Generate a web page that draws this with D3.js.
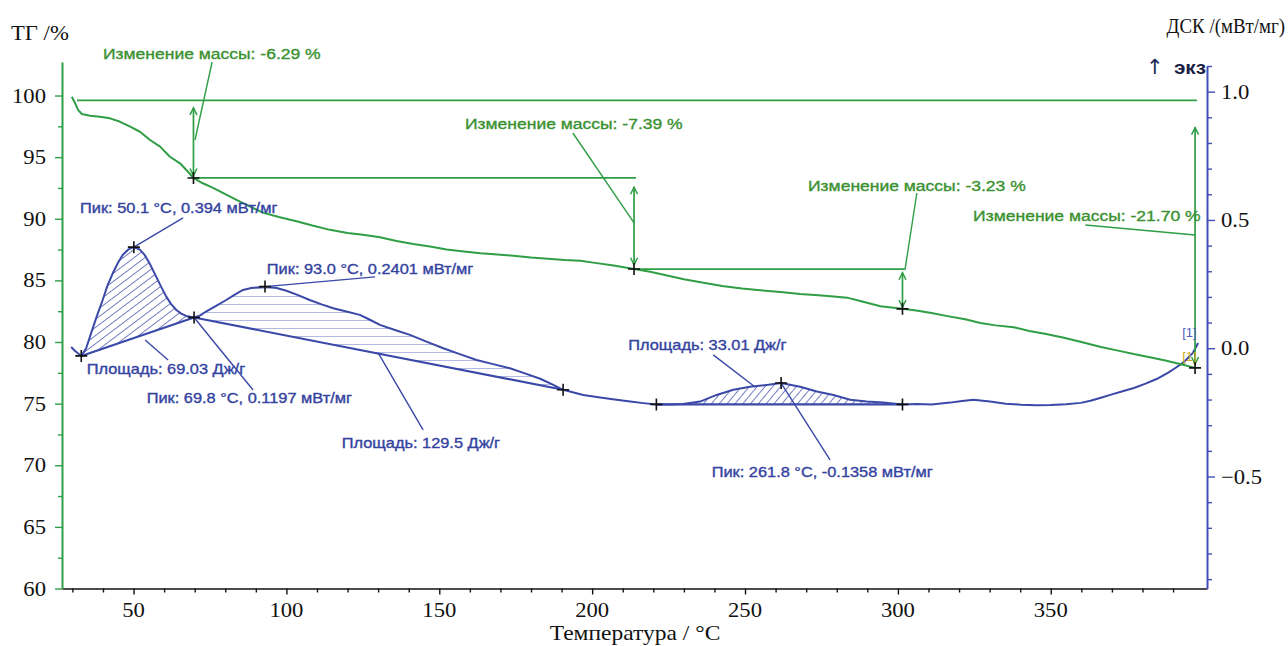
<!DOCTYPE html>
<html>
<head>
<meta charset="utf-8">
<script src="https://cdn.jsdelivr.net/npm/d3@7"></script>
<style>
  html, body { margin: 0; padding: 0; background: #fff; }
  svg { display: block; }
</style>
</head>
<body>
<svg id="chart" width="1288" height="646"></svg>
<script>
// ---------- data ----------
// TG curve: temperature (°C) and residual mass (%)
const tgTemp = [29.8, 30.9, 31.9, 33.1, 35.8, 39.0, 42.3, 45.6, 48.9, 52.1, 55.4, 58.7, 61.9, 65.2, 67.5, 69.6,
  72.5, 76.0, 80.0, 84.0, 88.0, 92.3, 97.5, 103.3, 108.5, 114.2, 120.0, 125.0, 130.6, 136.0, 141.5, 147.0,
  152.4, 158.0, 163.5, 169.0, 174.2, 180.0, 185.5, 191.0, 196.1, 201.5, 207.0, 213.7,
  219.0, 224.5, 230.0, 236.4, 242.5, 249.0, 255.0, 261.6, 268.0, 274.0, 279.0, 283.4, 288.0, 294.3, 301.5,
  306.0, 311.0, 316.2, 322.0, 327.0, 332.0, 337.9, 343.0, 348.5, 354.3, 360.0, 366.4, 372.0, 377.5, 382.8,
  387.5, 392.6, 397.2];
const tgMass = [99.9, 99.37, 98.82, 98.5, 98.36, 98.28, 98.15, 97.87, 97.47, 97.06, 96.39, 95.85, 95.03, 94.5, 93.9, 93.31,
  92.9, 92.5, 92.0, 91.5, 91.0, 90.5, 90.15, 89.8, 89.45, 89.1, 88.85, 88.7, 88.5, 88.2, 87.95, 87.75,
  87.5, 87.35, 87.2, 87.1, 87.0, 86.85, 86.75, 86.65, 86.6, 86.4, 86.2, 85.92,
  85.7, 85.4, 85.1, 84.8, 84.55, 84.35, 84.2, 84.05, 83.9, 83.8, 83.7, 83.6, 83.3, 82.9, 82.69,
  82.55, 82.35, 82.1, 81.85, 81.55, 81.35, 81.2, 80.9, 80.65, 80.35, 80.0, 79.6, 79.3, 79.0, 78.75,
  78.5, 78.2, 77.9];

// DSC curve: temperature (°C) and heat flow (mW/mg)
const dscTemp = [29.6, 30.8, 32.9, 34.5, 36.1, 38.0, 39.9, 41.5, 43.2, 45.0, 46.5, 48.3, 50.1, 52.0, 53.6,
  55.5, 57.4, 59.0, 60.7, 62.3, 64.0, 65.6, 67.2, 69.8, 71.8, 73.7, 77.0, 80.3, 83.0, 85.8, 88.5, 91.2, 93.0,
  96.5, 100.0, 103.8, 107.6, 111.5, 115.3, 119.6, 124.0, 127.3, 130.6, 135.5, 140.4, 145.8, 151.3, 156.7,
  162.2, 167.6, 173.1, 178.0, 183.0, 186.8, 190.5, 197.1, 202.6, 208.0, 212.4, 216.7, 221.0, 225.0, 229.7,
  235.3, 240.7, 246.2, 251.6, 257.1, 261.8, 268.0, 273.5, 278.9, 284.4, 289.8, 295.2, 301.5, 306.2, 311.0,
  317.1, 321.0, 324.7, 330.1, 335.3, 340.2, 345.1, 350.0, 355.0, 359.8, 363.0, 366.4, 370.0, 373.5, 377.2,
  381.0, 384.6, 388.3, 391.0, 393.6, 396.5, 398.2];
const dscHeat = [0.005, -0.01, -0.03, 0.0, 0.058, 0.125, 0.188, 0.245, 0.292, 0.335, 0.364, 0.385, 0.394, 0.385, 0.364,
  0.325, 0.279, 0.240, 0.201, 0.172, 0.149, 0.135, 0.126, 0.1197, 0.128, 0.143, 0.165, 0.188, 0.208, 0.227, 0.235, 0.238, 0.2401,
  0.236, 0.224, 0.207, 0.188, 0.171, 0.156, 0.143, 0.130, 0.111, 0.091, 0.071, 0.052, 0.026, 0.0, -0.023,
  -0.046, -0.062, -0.078, -0.098, -0.119, -0.140, -0.162, -0.182, -0.192, -0.201, -0.208, -0.214, -0.219, -0.219, -0.217,
  -0.208, -0.182, -0.162, -0.150, -0.143, -0.1358, -0.150, -0.169, -0.182, -0.201, -0.208, -0.212, -0.219, -0.217, -0.219,
  -0.212, -0.206, -0.201, -0.208, -0.216, -0.220, -0.222, -0.221, -0.218, -0.213, -0.205, -0.193, -0.180, -0.168, -0.155,
  -0.138, -0.120, -0.096, -0.075, -0.053, -0.018, 0.020];

// DSC peaks and integration results
const peakTemp = [50.1, 69.8, 93.0, 261.8];
const peakHeat = [0.394, 0.1197, 0.2401, -0.1358];
const areaStart = [32.9, 69.8, 221.0];   // integration limits, °C
const areaEnd = [69.8, 190.5, 301.5];
const areaValue = [69.03, 129.5, 33.01]; // J/g

// TG mass-loss steps
const refMass = 99.6;
const stepTemp = [69.6, 213.7, 301.5];
const stepChange = [-6.29, -7.39, -3.23];
const totalTemp = 397.2;
const totalChange = -21.70;

// axis ticks
const tempTicks = [50, 100, 150, 200, 250, 300, 350];
const tempMinor = [30, 40, 60, 70, 80, 90, 110, 120, 130, 140, 160, 170, 180, 190, 210, 220, 230, 240, 260, 270, 280, 290, 310, 320, 330, 340, 360, 370, 380, 390];
const massTicks = [60, 65, 70, 75, 80, 85, 90, 95, 100];
const massMinor = [62.5, 67.5, 72.5, 77.5, 82.5, 87.5, 92.5, 97.5];
const dscTicks = [-0.5, 0.0, 0.5, 1.0];
const dscMinor = [-0.9, -0.8, -0.7, -0.6, -0.4, -0.3, -0.2, -0.1, 0.1, 0.2, 0.3, 0.4, 0.6, 0.7, 0.8, 0.9, 1.1];

// ---------- layout ----------
const GREEN = '#2f9e45', GREEN_TXT = '#3a9130', BLUE = '#3a48a8', BLUE_TXT = '#34439f';
const svg = d3.select('#chart');

const x = d3.scaleLinear().domain([26.6, 401.1]).range([62, 1207]);
const yTG = d3.scaleLinear().domain([60, 102.72]).range([588.5, 62]);
const yDSC = d3.scaleLinear().domain([-0.9365, 1.1]).range([588.5, 66]);

function txt(g, px, py, str, o) {
  const t = g.append('text')
    .attr('transform', `translate(${px},${py}) scale(${o.sx || 1},1)`)
    .attr('text-anchor', o.anchor || 'start')
    .attr('font-family', o.family || 'Liberation Sans, Arial, sans-serif')
    .attr('font-size', o.size || 14)
    .attr('font-weight', o.weight || 'normal')
    .attr('fill', o.color || '#000')
    .text(str);
  if (o.heavy) t.attr('stroke', o.color).attr('stroke-width', o.heavy);
  return t;
}
const SERIF = 'Liberation Serif, Times New Roman, serif';

// ---------- hatch patterns ----------
const defs = svg.append('defs');
function hatch(id, angle, gap, color, width) {
  const p = defs.append('pattern').attr('id', id).attr('patternUnits', 'userSpaceOnUse')
    .attr('width', gap).attr('height', gap).attr('patternTransform', `rotate(${angle})`);
  p.append('line').attr('x1', 0).attr('y1', 0).attr('x2', 0).attr('y2', gap)
    .attr('stroke', color).attr('stroke-width', width);
}
hatch('hatchA', 53, 6.5, BLUE, 1.4);
hatch('hatchB', 90, 8, '#7f89cc', 1.2);
hatch('hatchC', 40, 6, BLUE, 1.4);

// ---------- axes ----------
const gAx = svg.append('g');
// bottom (temperature)
gAx.append('g').attr('transform', 'translate(0,588.5)')
  .call(d3.axisBottom(x).tickValues(tempMinor).tickSize(4).tickSizeOuter(0).tickFormat(''))
  .call(g => g.select('.domain').attr('stroke', '#111').attr('stroke-width', 1.6))
  .call(g => g.selectAll('.tick line').attr('stroke', '#111').attr('stroke-width', 1.4));
gAx.append('g').attr('transform', 'translate(0,588.5)')
  .call(d3.axisBottom(x).tickValues(tempTicks).tickSize(6).tickSizeOuter(0).tickFormat(''))
  .call(g => g.select('.domain').remove())
  .call(g => g.selectAll('.tick line').attr('stroke', '#111').attr('stroke-width', 1.4));
tempTicks.forEach(t => txt(gAx, x(t), 617, String(t), {family: SERIF, size: 21, anchor: 'middle', sx: 1.08, color: '#111'}));
txt(gAx, 635, 640, 'Температура / °C', {family: SERIF, size: 21, anchor: 'middle', sx: 1.12, color: '#111'});

// left (TG)
gAx.append('g').attr('transform', 'translate(62,0)')
  .call(d3.axisLeft(yTG).tickValues(massMinor).tickSize(4).tickSizeOuter(0).tickFormat(''))
  .call(g => g.select('.domain').attr('stroke', GREEN).attr('stroke-width', 2))
  .call(g => g.selectAll('.tick line').attr('stroke', GREEN).attr('stroke-width', 1.4));
gAx.append('g').attr('transform', 'translate(62,0)')
  .call(d3.axisLeft(yTG).tickValues(massTicks).tickSize(7).tickSizeOuter(0).tickFormat(''))
  .call(g => g.select('.domain').remove())
  .call(g => g.selectAll('.tick line').attr('stroke', GREEN).attr('stroke-width', 1.4));
massTicks.forEach(v => txt(gAx, 46, yTG(v) + 7, String(v), {family: SERIF, size: 21, anchor: 'end', sx: 1.08, color: '#111'}));
txt(gAx, 11, 40, 'ТГ /%', {family: SERIF, size: 21, sx: 1.08, color: '#111'});

// right (DSC)
gAx.append('g').attr('transform', 'translate(1207,0)')
  .call(d3.axisRight(yDSC).tickValues(dscMinor).tickSize(5).tickSizeOuter(0).tickFormat(''))
  .call(g => g.select('.domain').attr('stroke', '#4050b8').attr('stroke-width', 2))
  .call(g => g.selectAll('.tick line').attr('stroke', '#4050b8').attr('stroke-width', 1.4));
gAx.append('g').attr('transform', 'translate(1207,0)')
  .call(d3.axisRight(yDSC).tickValues(dscTicks).tickSize(8).tickSizeOuter(0).tickFormat(''))
  .call(g => g.select('.domain').remove())
  .call(g => g.selectAll('.tick line').attr('stroke', '#4050b8').attr('stroke-width', 1.4));
dscTicks.forEach(v => txt(gAx, 1221, yDSC(v) + 7, d3.format('.1f')(v), {family: SERIF, size: 21, sx: 1.08, color: '#111'}));
txt(gAx, 1285, 33, 'ДСК /(мВт/мг)', {family: SERIF, size: 21, anchor: 'end', sx: 0.9, color: '#111'});
txt(gAx, 1146, 74, '↑', {family: 'DejaVu Sans, sans-serif', size: 21, color: '#1d2a55'});
txt(gAx, 1206, 74, 'экз', {size: 18, weight: 'bold', anchor: 'end', sx: 1.15, color: '#1a1f45'});

// ---------- DSC: integrated areas ----------
const dscPts = dscTemp.map((t, i) => [t, dscHeat[i]]);
const heatAt = t => dscPts.find(p => Math.abs(p[0] - t) < 1e-6)[1];
const gArea = svg.append('g');
['hatchA', 'hatchB', 'hatchC'].forEach((pat, i) => {
  const a = areaStart[i], b = areaEnd[i];
  const seg = dscPts.filter(p => p[0] >= a && p[0] <= b);
  const poly = seg.map(p => [x(p[0]), yDSC(p[1])]);
  poly.push([x(a), yDSC(heatAt(a))]);
  gArea.append('path').attr('d', 'M' + poly.map(p => p.join(',')).join('L') + 'Z')
    .attr('fill', `url(#${pat})`).attr('stroke', 'none');
  // baseline
  gArea.append('line').attr('x1', x(a)).attr('y1', yDSC(heatAt(a))).attr('x2', x(b)).attr('y2', yDSC(heatAt(b)))
    .attr('stroke', BLUE).attr('stroke-width', 2.2);
});

// ---------- curves ----------
svg.append('path').datum(dscPts)
  .attr('d', d3.line().x(d => x(d[0])).y(d => yDSC(d[1])))
  .attr('fill', 'none').attr('stroke', BLUE).attr('stroke-width', 2).attr('stroke-linejoin', 'round');
const tgPts = tgTemp.map((t, i) => [t, tgMass[i]]);
svg.append('path').datum(tgPts)
  .attr('d', d3.line().x(d => x(d[0])).y(d => yTG(d[1])))
  .attr('fill', 'none').attr('stroke', GREEN).attr('stroke-width', 2).attr('stroke-linejoin', 'round');

// ---------- TG step construction ----------
const gStep = svg.append('g').attr('stroke', GREEN).attr('fill', 'none');
const stepMass = [];
stepChange.reduce((m, d) => { const v = +(m + d).toFixed(2); stepMass.push(v); return v; }, refMass);
const finalMass = +(refMass + totalChange).toFixed(2);
const levels = [refMass, ...stepMass];

gStep.append('line').attr('x1', x(31.5)).attr('x2', x(397.8)).attr('y1', yTG(refMass)).attr('y2', yTG(refMass)).attr('stroke-width', 1.7);
stepMass.slice(0, 2).forEach((m, i) => {
  gStep.append('line').attr('x1', x(stepTemp[i])).attr('x2', x(stepTemp[i + 1]) + 2)
    .attr('y1', yTG(m)).attr('y2', yTG(m)).attr('stroke-width', 1.7);
});

function dblArrow(px, y1, y2) {
  gStep.append('line').attr('x1', px).attr('x2', px).attr('y1', y1).attr('y2', y2).attr('stroke-width', 1.7);
  const h = 7, w = 3.5;
  gStep.append('path').attr('d', `M${px - w},${y1 + h}L${px},${y1}L${px + w},${y1 + h}`).attr('stroke-width', 1.5);
  gStep.append('path').attr('d', `M${px - w},${y2 - h}L${px},${y2}L${px + w},${y2 - h}`).attr('stroke-width', 1.5);
}
// arrows stand a little off the levels they join
const arrowGap = [[0.6, 0.2], [0.75, 0.35], [0.3, 0.15]];
stepTemp.forEach((t, i) => dblArrow(x(t), yTG(levels[i] - arrowGap[i][0]), yTG(stepMass[i] + arrowGap[i][1])));
dblArrow(x(totalTemp), yTG(97.4), yTG(finalMass + 0.3));

// ---------- annotations ----------
const gNote = svg.append('g');
function note(str, at, from, to, yScale, color, lineColor, size, sx) {
  gNote.append('line').attr('x1', x(from[0])).attr('y1', yScale(from[1])).attr('x2', x(to[0])).attr('y2', yScale(to[1]))
    .attr('stroke', lineColor).attr('stroke-width', 1.4);
  txt(gNote, x(at[0]), yScale(at[1]), str, {size: size, color: color, sx: sx, heavy: 0.35});
}
const massLabel = v => `Изменение массы: ${v.toFixed(2)} %`;
const G = [yTG, GREEN_TXT, GREEN, 14.6, 1.2];
note(massLabel(stepChange[0]), [40.0, 102.96], [75.7, 102.72], [70.1, 96.39], ...G);
note(massLabel(stepChange[1]), [158.4, 97.28], [193.7, 96.96], [213.7, 89.66], ...G);
note(massLabel(stepChange[2]), [270.6, 92.25], [306.2, 92.09], [302.3, 85.84], ...G);
note(massLabel(totalChange), [324.6, 89.82], [361.3, 89.49], [397.2, 88.68], ...G);

const peakLabel = i => `Пик: ${peakTemp[i].toFixed(1)} °C, ${peakHeat[i]} мВт/мг`;
const areaLabel = i => `Площадь: ${areaValue[i]} Дж/г`;
const B = [yDSC, BLUE_TXT, BLUE, 14, 1.17];
note(peakLabel(0), [32.5, 0.527], [peakTemp[0], peakHeat[0]], [66.2, 0.508], ...B);
note(peakLabel(2), [93.6, 0.290], [peakTemp[2], peakHeat[2]], [129.0, 0.278], ...B);
note(areaLabel(0), [34.7, -0.100], [53.8, 0.032], [61.3, -0.046], ...B);
note(peakLabel(1), [54.3, -0.213], [peakTemp[1], peakHeat[1]], [89.1, -0.163], ...B);
note(areaLabel(1), [118.1, -0.389], [130.0, -0.018], [144.7, -0.318], ...B);
note(areaLabel(2), [211.8, -0.007], [239.6, -0.026], [253.3, -0.151], ...B);
note(peakLabel(3), [239.1, -0.502], [peakTemp[3], peakHeat[3]], [277.8, -0.435], ...B);

// curve tags at the end of the run
txt(gNote, x(393.0), yDSC(0.044), '[1]', {size: 13, color: '#4f5fc0'});
txt(gNote, x(393.0), yDSC(-0.049), '[1]', {size: 13, color: '#c9a820'});

// ---------- cross markers ----------
const cross = [];
[areaStart[0], peakTemp[0], peakTemp[1], peakTemp[2], areaEnd[1], areaStart[2], peakTemp[3], areaEnd[2]]
  .forEach(t => cross.push([x(t), yDSC(heatAt(t))]));
stepTemp.forEach((t, i) => cross.push([x(t), yTG(stepMass[i])]));
cross.push([x(totalTemp), yTG(finalMass)]);
svg.append('g').selectAll('path').data(cross).join('path')
  .attr('d', d => `M${d[0] - 6},${d[1]}H${d[0] + 6}M${d[0]},${d[1] - 6}V${d[1] + 6}`)
  .attr('stroke', '#111').attr('stroke-width', 1.6).attr('fill', 'none');
</script>
</body>
</html>
